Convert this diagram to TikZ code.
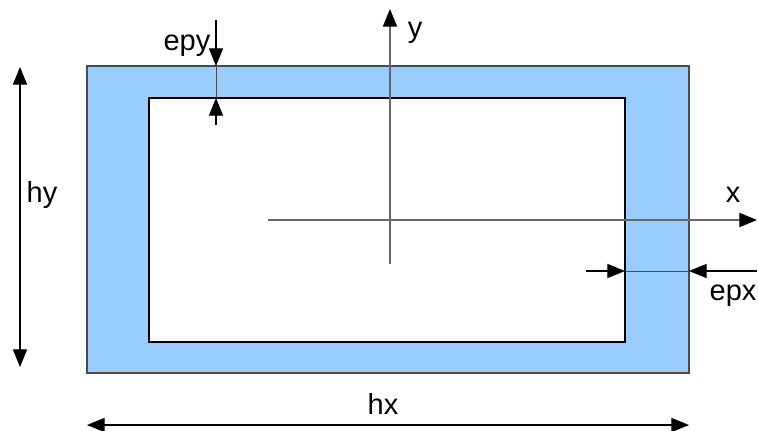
\documentclass[tikz,border=0pt]{standalone}
\usepackage{fontspec}
\setmainfont{Liberation Sans}
\usetikzlibrary{arrows.meta}
\definecolor{tubeblue}{HTML}{99CCFF}

\begin{document}
\begin{tikzpicture}[x=0.02cm, y=-0.02cm,
        tip/.style={-{Triangle[length=10pt,width=8pt,color=black]}},
        both/.style={{Triangle[length=10pt,width=8pt]}-{Triangle[length=10pt,width=8pt]}},
        dim/.style={tip, line width=0.6pt},
        thin line/.style={draw=black!70, line width=0.5pt},
        axis/.style={tip, draw=black!60, line width=0.8pt},
        lbl/.style={font=\fontsize{16.5}{19}\selectfont, inner sep=0pt, anchor=base}]
    \useasboundingbox (0,0) rectangle (758,430);
    \filldraw[fill=tubeblue, draw=black!70, line width=0.6pt] (87,66) rectangle (689,373);
    \filldraw[fill=white, draw=black, line width=0.6pt] (149,98) rectangle (625,342);
    \coordinate (xs) at (268,220);
    \coordinate (xe) at (757,220);
    \coordinate (ys) at (390,264);
    \coordinate (ye) at (390,9);
    \draw[axis] (xs) -- (xe);
    \draw[axis] (ys) -- (ye);
    \node[lbl] (xlbl) at (733,202) {x};
    \node[lbl] (ylbl) at (415,37) {y};
    \coordinate (epyA) at (216,20);
    \coordinate (epyB) at (216,66);
    \coordinate (epyC) at (216,125);
    \coordinate (epyD) at (216,98);
    \draw[thin line] (epyB) -- (epyD);
    \draw[dim] (epyA) -- (epyB);
    \draw[dim] (epyC) -- (epyD);
    \node[lbl] (epylbl) at (187,50) {epy};
    \coordinate (epxA) at (586,271);
    \coordinate (epxB) at (625,271);
    \coordinate (epxC) at (757,271);
    \coordinate (epxD) at (689,271);
    \draw[thin line] (epxB) -- (epxD);
    \draw[dim] (epxA) -- (epxB);
    \draw[dim] (epxC) -- (epxD);
    \node[lbl] (epxlbl) at (733,300) {epx};
    \coordinate (hyA) at (20,67);
    \coordinate (hyB) at (20,367);
    \draw[both, line width=0.6pt] (hyA) -- (hyB);
    \node[lbl] (hylbl) at (42,202) {hy};
    \coordinate (hxA) at (87,425);
    \coordinate (hxB) at (689,425);
    \draw[both, line width=0.6pt] (hxA) -- (hxB);
    \node[lbl] (hxlbl) at (383,414) {hx};
\end{tikzpicture}
\end{document}
